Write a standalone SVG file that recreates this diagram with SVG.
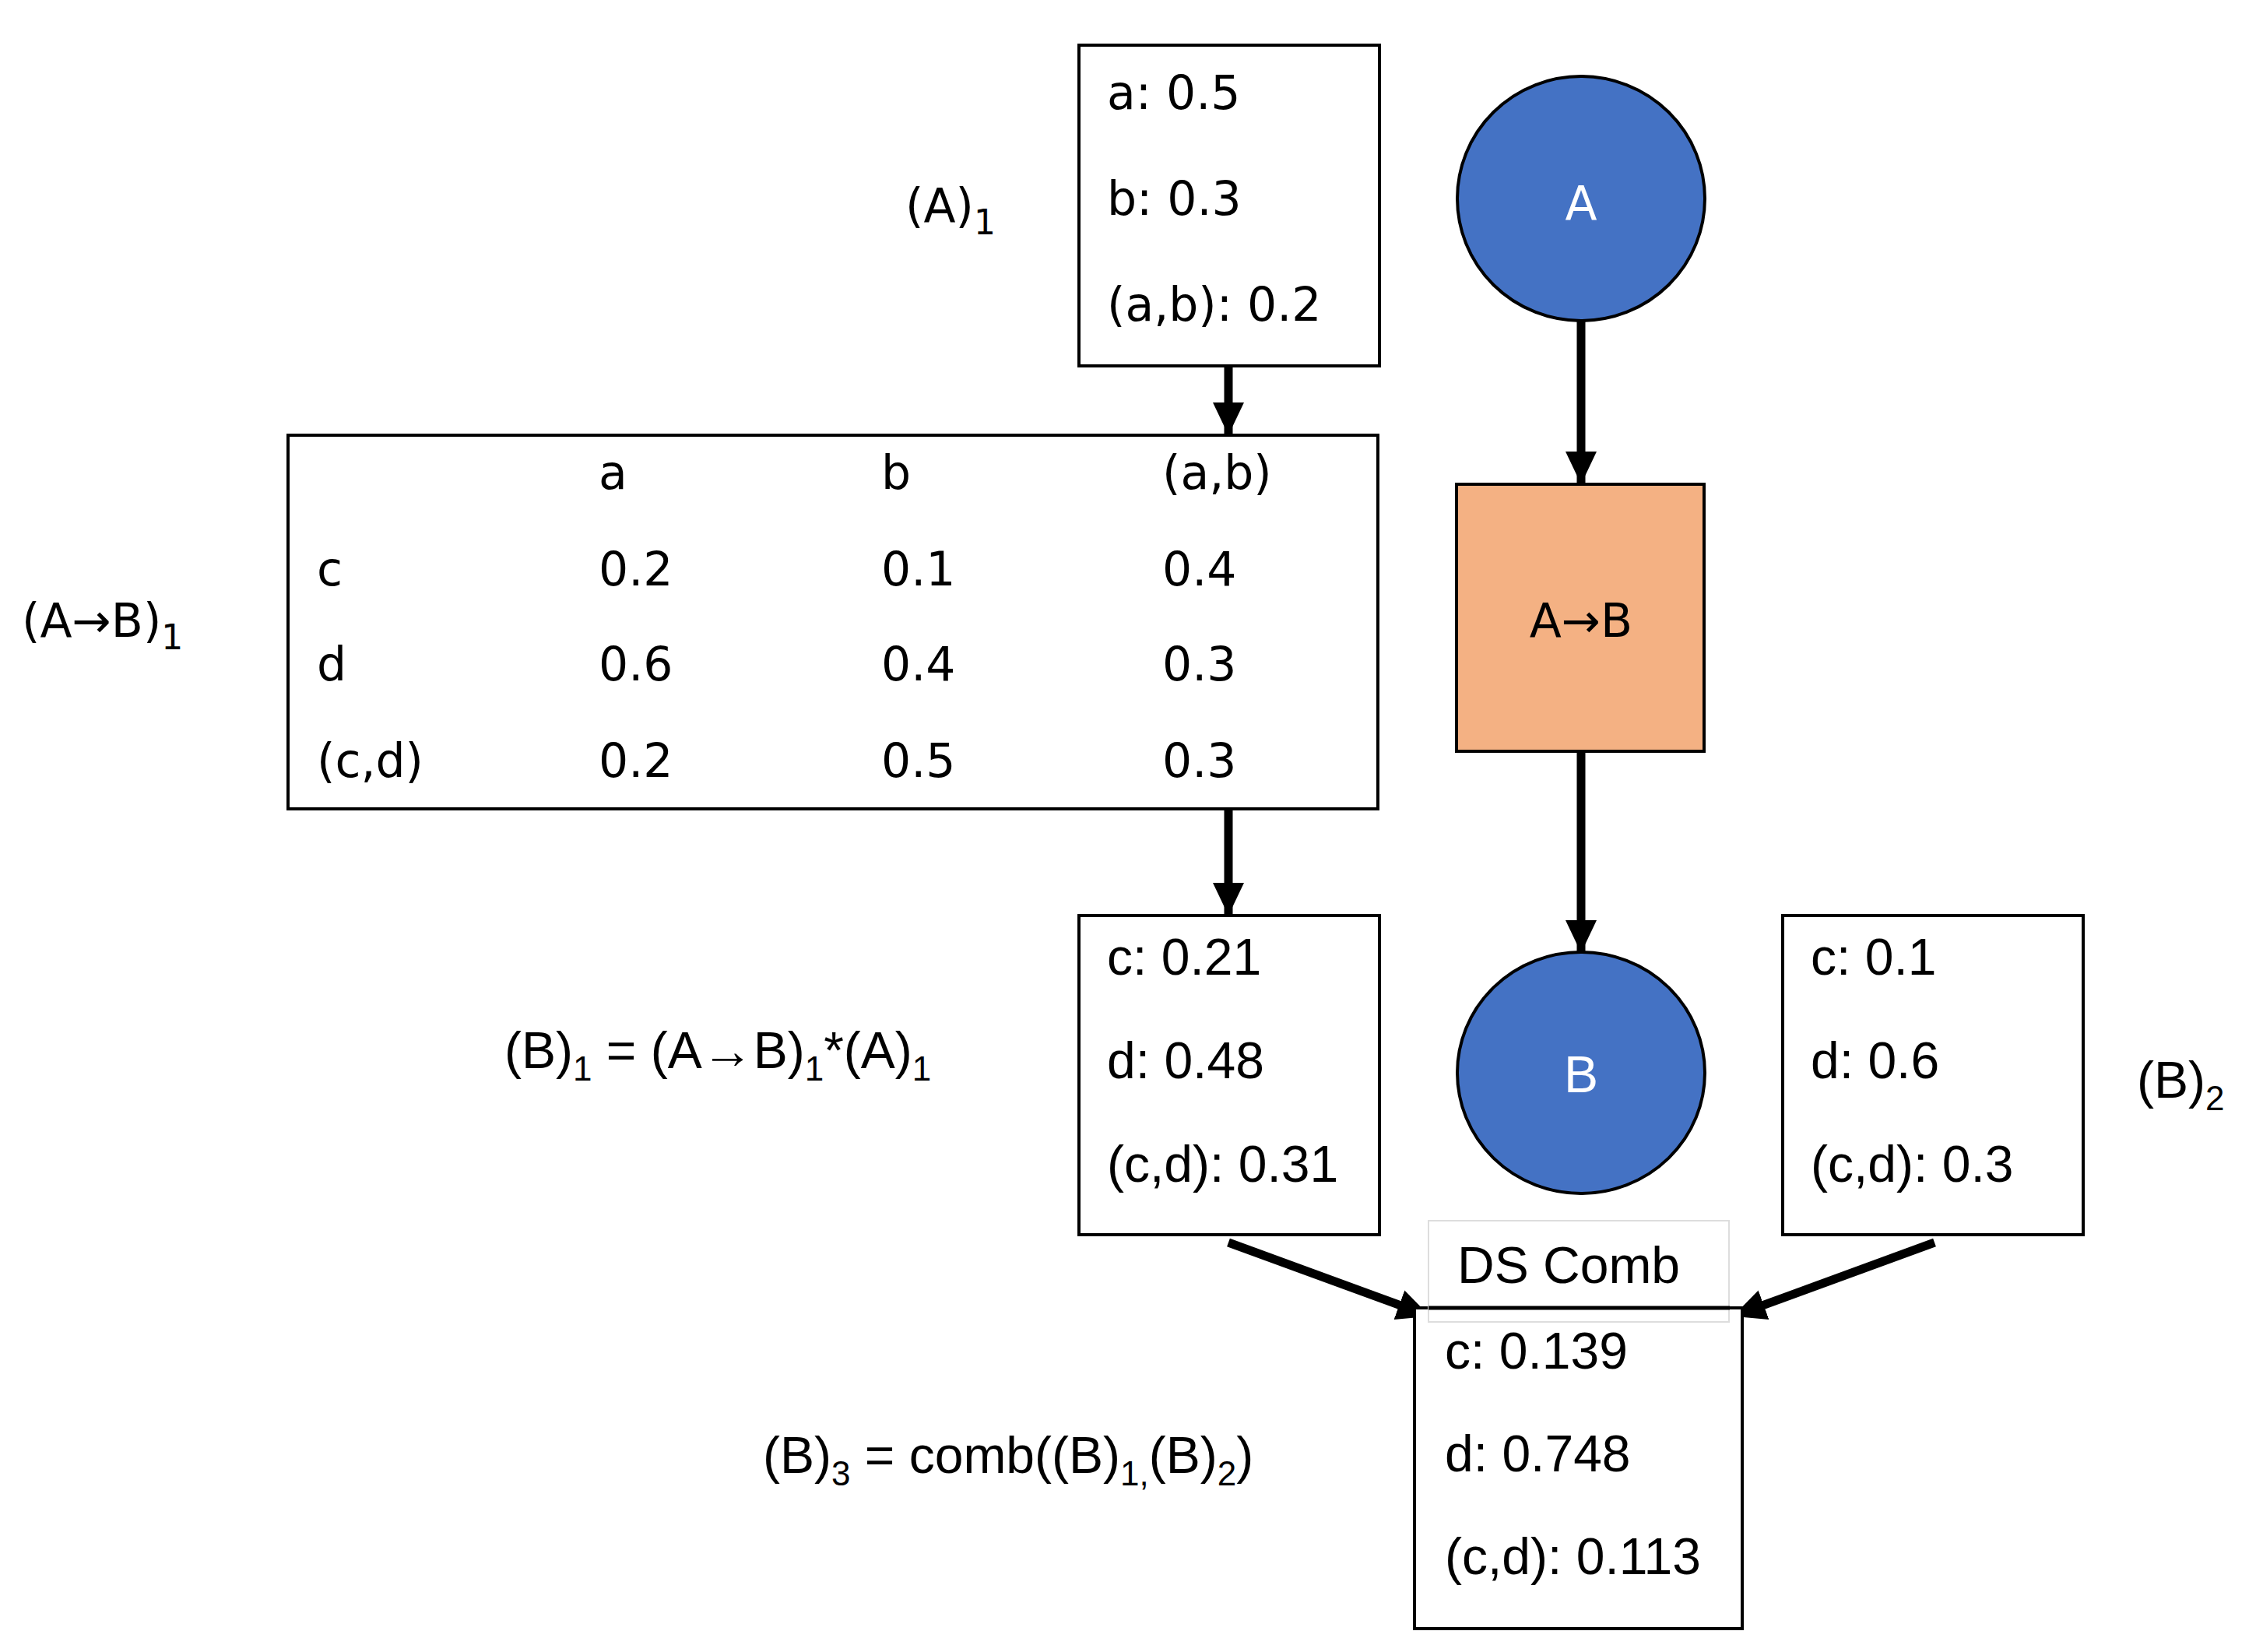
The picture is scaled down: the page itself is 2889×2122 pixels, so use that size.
<svg xmlns="http://www.w3.org/2000/svg" width="2889" height="2122" viewBox="0 0 2889 2122">
<style>
.t{font-family:"DejaVu Sans",Verdana,sans-serif;font-size:60px;fill:#000}
.n{font-family:"Liberation Sans Narrow","Liberation Sans",sans-serif;font-size:66px;fill:#000}
.box{fill:#fff;stroke:#000;stroke-width:4}
.c{stroke:#000;stroke-width:11;fill:none}
.s{font-size:44px}
</style>
<defs>
<marker id="ah" markerUnits="userSpaceOnUse" markerWidth="44" markerHeight="44" refX="40" refY="22" orient="auto">
<path d="M0,2 L42,22 L0,42 Z" fill="#000"/>
</marker>
</defs>
<rect width="2889" height="2122" fill="#fff"/>
<g id="connectors">
<line class="c" x1="1578" y1="470" x2="1578" y2="557" marker-end="url(#ah)"/>
<line class="c" x1="2031" y1="413" x2="2031" y2="620" marker-end="url(#ah)"/>
<line class="c" x1="1578" y1="1039" x2="1578" y2="1174" marker-end="url(#ah)"/>
<line class="c" x1="2031" y1="965" x2="2031" y2="1222" marker-end="url(#ah)"/>
<line class="c" x1="1578" y1="1596" x2="1835" y2="1690" marker-end="url(#ah)"/>
<line class="c" x1="2485" y1="1596" x2="2228" y2="1690" marker-end="url(#ah)"/>
</g>
<g id="A1">
<rect class="box" x="1386" y="58" width="386" height="412"/>
<text class="t" x="1422" y="140">a: 0.5</text>
<text class="t" x="1422" y="276">b: 0.3</text>
<text class="t" x="1422" y="412">(a,b): 0.2</text>
<text class="t" x="1163" y="285" font-size="70">(A)<tspan class="s" dy="16">1</tspan></text>
</g>
<g id="A">
<ellipse cx="2031" cy="255" rx="159" ry="157" fill="#4472c4" stroke="#000" stroke-width="4"/>
<text class="t" x="2031" y="282" font-size="70" fill="#fff" style="fill:#fff" text-anchor="middle">A</text>
</g>
<g id="table">
<rect class="box" x="370" y="559" width="1400" height="480"/>
<text class="t" x="769" y="628">a</text>
<text class="t" x="1132" y="628">b</text>
<text class="t" x="1493" y="628">(a,b)</text>
<text class="t" x="407" y="752">c</text>
<text class="t" x="769" y="752">0.2</text>
<text class="t" x="1132" y="752">0.1</text>
<text class="t" x="1493" y="752">0.4</text>
<text class="t" x="407" y="874">d</text>
<text class="t" x="769" y="874">0.6</text>
<text class="t" x="1132" y="874">0.4</text>
<text class="t" x="1493" y="874">0.3</text>
<text class="t" x="407" y="998">(c,d)</text>
<text class="t" x="769" y="998">0.2</text>
<text class="t" x="1132" y="998">0.5</text>
<text class="t" x="1493" y="998">0.3</text>
<text class="t" x="28" y="818" font-size="70">(A→B)<tspan class="s" dy="16">1</tspan></text>
</g>
<g id="AtoB">
<rect x="1871" y="622" width="318" height="343" fill="#f4b183" stroke="#000" stroke-width="4"/>
<text class="t" x="2031" y="818" font-size="70" text-anchor="middle">A→B</text>
</g>
<g id="B1">
<rect class="box" x="1386" y="1176" width="386" height="410"/>
<text class="n" x="1422" y="1252">c: 0.21</text>
<text class="n" x="1422" y="1385">d: 0.48</text>
<text class="n" x="1422" y="1518">(c,d): 0.31</text>
<text class="n" x="648" y="1372" font-size="80">(B)<tspan class="s" dy="16">1</tspan><tspan dy="-16"> = (A→B)</tspan><tspan class="s" dy="16">1</tspan><tspan dy="-16">*(A)</tspan><tspan class="s" dy="16">1</tspan></text>
</g>
<g id="B">
<ellipse cx="2031" cy="1378" rx="159" ry="155" fill="#4472c4" stroke="#000" stroke-width="4"/>
<text class="n" x="2031" y="1403" font-size="76" style="fill:#fff" text-anchor="middle">B</text>
</g>
<g id="B2">
<rect class="box" x="2290" y="1176" width="386" height="410"/>
<text class="n" x="2326" y="1252">c: 0.1</text>
<text class="n" x="2326" y="1385">d: 0.6</text>
<text class="n" x="2326" y="1518">(c,d): 0.3</text>
<text class="n" x="2745" y="1410" font-size="80">(B)<tspan class="s" dy="16">2</tspan></text>
</g>
<g id="B3">
<rect class="box" x="1817" y="1680" width="421" height="412"/>
<rect x="1835" y="1568" width="386" height="130" fill="#fff" stroke="#ddd" stroke-width="2"/>
<line x1="1835" y1="1680" x2="2222" y2="1680" stroke="#000" stroke-width="5"/>
<text class="n" x="1872" y="1648">DS Comb</text>
<text class="n" x="1856" y="1758">c: 0.139</text>
<text class="n" x="1856" y="1890">d: 0.748</text>
<text class="n" x="1856" y="2022">(c,d): 0.113</text>
<text class="n" x="980" y="1892" font-size="80">(B)<tspan class="s" dy="16">3</tspan><tspan dy="-16"> = comb((B)</tspan><tspan class="s" dy="16">1,</tspan><tspan dy="-16">(B)</tspan><tspan class="s" dy="16">2</tspan><tspan dy="-16">)</tspan></text>
</g>
</svg>
